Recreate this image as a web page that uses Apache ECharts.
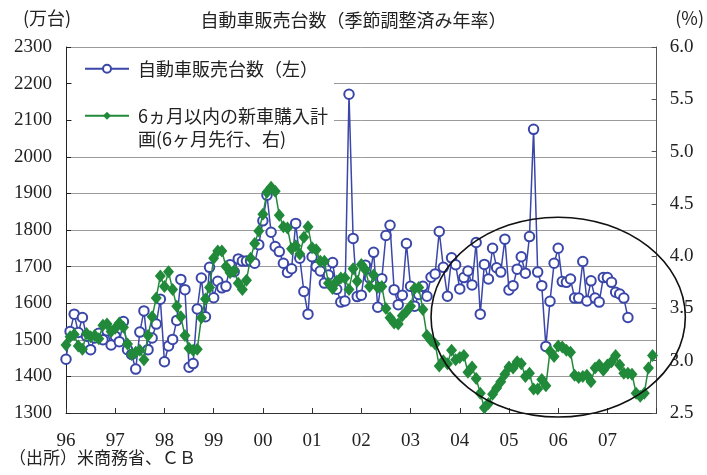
<!DOCTYPE html>
<html>
<head>
<meta charset="utf-8">
<script src="https://cdn.jsdelivr.net/npm/echarts@6/dist/echarts.min.js"></script>
<style>
html,body{margin:0;padding:0;background:#fff;}
#chart{width:707px;height:475px;}
</style>
</head>
<body>
<div id="chart"></div>
<script>
// ---- data ----
const chartTitle = '自動車販売台数（季節調整済み年率）';
const leftUnit = '(万台)';
const rightUnit = '(%)';
const sourceNote = '（出所）米商務省、ＣＢ';
const salesName = '自動車販売台数（左）';
const planName = '6ヵ月以内の新車購入計画(6ヶ月先行、右)';
const years = ['96','97','98','99','00','01','02','03','04','05','06','07','08'];
const leftTicks = [1300,1400,1500,1600,1700,1800,1900,2000,2100,2200,2300];
const rightTicks = [2.5,3.0,3.5,4.0,4.5,5.0,5.5,6.0];

// monthly categories 1996-01 .. 2008-01
const categories = [];
for (let y = 1996; y <= 2008; y++) {
  for (let m = 1; m <= 12; m++) {
    if (y === 2008 && m > 1) break;
    categories.push(y + '-' + (m < 10 ? '0' + m : m));
  }
}

// 自動車販売台数 (万台, left axis), 1996-01 .. 2007-06
const salesValues = [
  1447,1523,1570,1520,1561,1510,1473,1505,1518,1500,1525,1486,
  1510,1495,1550,1473,1460,1420,1521,1579,1473,1505,1543,1611,
  1440,1483,1501,1553,1665,1637,1425,1435,1584,1669,1563,1698,
  1615,1660,1642,1646,1705,1686,1721,1715,1715,1715,1709,1760,
  1825,1895,1794,1755,1741,1709,1684,1694,1818,1723,1632,1570,
  1727,1700,1688,1655,1677,1711,1638,1603,1606,2171,1777,1618,
  1622,1704,1669,1739,1589,1667,1785,1813,1637,1596,1622,1763,
  1646,1592,1624,1646,1619,1671,1680,1796,1698,1619,1724,1705,
  1639,1670,1688,1650,1766,1570,1706,1666,1750,1697,1685,1775,
  1636,1648,1693,1727,1682,1782,2075,1685,1648,1482,1605,1709,
  1750,1659,1657,1666,1614,1614,1714,1606,1661,1614,1603,1670,
  1670,1657,1630,1625,1614,1561
];

// 6ヵ月以内の新車購入計画 (%, right axis, 6 months ahead), 1996-01 .. 2007-12
const planValues = [
  3.15,3.23,3.25,3.14,3.11,3.26,3.23,3.24,3.21,3.34,3.35,3.28,
  3.31,3.36,3.32,3.16,3.06,3.08,3.10,3.01,3.24,3.42,3.60,3.81,
  3.71,3.85,3.68,3.52,3.42,3.24,3.12,3.10,3.11,3.41,3.59,3.70,
  3.98,4.05,4.05,3.90,3.84,3.86,3.74,3.68,3.77,3.98,4.12,4.24,
  4.40,4.61,4.66,4.62,4.39,4.28,4.27,4.07,4.10,4.02,4.18,4.28,
  4.08,4.06,3.95,3.95,3.74,3.69,3.76,3.79,3.79,3.68,3.88,3.76,
  3.92,3.87,3.71,3.82,3.70,3.71,3.50,3.41,3.36,3.35,3.43,3.47,
  3.52,3.69,3.70,3.49,3.24,3.19,3.16,2.95,3.00,2.97,3.10,3.01,
  3.03,3.05,2.89,2.94,2.83,2.69,2.55,2.59,2.68,2.74,2.80,2.87,
  2.94,2.93,2.99,2.97,2.85,2.88,2.73,2.73,2.82,2.76,3.09,3.04,
  3.14,3.13,3.10,3.08,2.86,2.84,2.85,2.86,2.80,2.93,2.96,2.91,
  2.96,2.99,3.05,2.96,2.88,2.88,2.87,2.69,2.66,2.69,2.93,3.05
];

// annotation ellipse (data coordinates)
const ellipseCenter = ['2006-01', 1562];
const ellipseLeftCategory = '2003-06';
const ellipseTopValue = 1835;

// ---- chart ----
const numFont = '"Liberation Serif", "Noto Sans CJK JP", serif';
const jpFont = '"Noto Sans CJK JP", sans-serif';
const blue = '#3A46A8';
const green = '#218A3A';

const chart = echarts.init(document.getElementById('chart'), null, {renderer: 'canvas'});

const option = {
  animation: false,
  backgroundColor: '#fff',
  title: [
    {text: chartTitle, left: 'center', top: 6,
     textStyle: {fontFamily: jpFont, fontSize: 18, fontWeight: 'normal', color: '#222'}},
    {text: sourceNote, left: 4, bottom: 3,
     textStyle: {fontFamily: jpFont, fontSize: 17, lineHeight: 18, fontWeight: 'normal', color: '#222'}}
  ],
  grid: {left: 66, right: 48, top: 47, bottom: 62, containLabel: false},
  legend: {
    orient: 'vertical',
    left: 72, top: 51,
    itemGap: 0,
    itemWidth: 44,
    itemHeight: 10,
    backgroundColor: '#fff',
    padding: [6, 6, 4, 12],
    z: 10,
    data: [salesName, planName],
    formatter: function (name) {
      if (name === planName) return '\n6ヵ月以内の新車購入計\n画(6ヶ月先行、右)';
      return name;
    },
    textStyle: {fontFamily: jpFont, fontSize: 18, lineHeight: 23.5, color: '#222', padding: [0, 0, 0, 4]}
  },
  xAxis: {
    type: 'category',
    data: categories,
    boundaryGap: false,
    axisLine: {lineStyle: {color: '#333', width: 1}},
    axisTick: {inside: true, length: 5, lineStyle: {color: '#333'},
      interval: function (i) { return i % 12 === 0; }},
    axisLabel: {
      interval: function (i) { return i % 12 === 0 && i < 144; },
      formatter: function (v, i) { return years[Math.floor(i / 12)]; },
      margin: 19, lineHeight: 18,
      fontFamily: numFont, fontSize: 19, color: '#222'
    }
  },
  yAxis: [
    {
      type: 'value', min: leftTicks[0], max: leftTicks[leftTicks.length - 1], interval: 100,
      name: leftUnit, nameLocation: 'end', nameGap: 20,
      nameTextStyle: {fontFamily: jpFont, fontSize: 18, color: '#222', padding: [0, 38, 0, 0]},
      axisLine: {show: true, lineStyle: {color: '#222', width: 1}},
      axisTick: {show: true, inside: true, length: 5, lineStyle: {color: '#222'}},
      axisLabel: {margin: 14, fontFamily: numFont, fontSize: 19, color: '#222',
        formatter: function (v) { return String(v); }},
      splitLine: {show: true, lineStyle: {color: '#9a9a9a', width: 1}}
    },
    {
      type: 'value', min: rightTicks[0], max: rightTicks[rightTicks.length - 1], interval: 0.5,
      name: rightUnit, nameLocation: 'end', nameGap: 20,
      nameTextStyle: {fontFamily: jpFont, fontSize: 18, color: '#222', padding: [0, 0, 0, 66]},
      axisLine: {show: true, lineStyle: {color: '#555', width: 1}},
      axisTick: {show: true, inside: true, length: 5, lineStyle: {color: '#555'}},
      axisLabel: {margin: 13, fontFamily: numFont, fontSize: 19, color: '#222',
        formatter: function (v) { return v.toFixed(1); }},
      splitLine: {show: false}
    }
  ],
  series: [
    {
      name: salesName, type: 'line', yAxisIndex: 0,
      data: salesValues,
      showAllSymbol: true,
      symbol: 'emptyCircle', symbolSize: 9.5,
      lineStyle: {color: blue, width: 1.5},
      itemStyle: {color: blue, borderColor: blue, borderWidth: 1.5},
      z: 3
    },
    {
      name: planName, type: 'line', yAxisIndex: 1,
      data: planValues,
      showAllSymbol: true,
      symbol: 'diamond', symbolSize: [11, 13],
      lineStyle: {color: green, width: 1.5},
      itemStyle: {color: green},
      z: 4
    }
  ]
};
chart.setOption(option);

// annotation ellipse positioned through the chart's own scales
const c = chart.convertToPixel({xAxisIndex: 0, yAxisIndex: 0}, ellipseCenter);
const l = chart.convertToPixel({xAxisIndex: 0, yAxisIndex: 0}, [ellipseLeftCategory, ellipseCenter[1]]);
const t = chart.convertToPixel({xAxisIndex: 0, yAxisIndex: 0}, [ellipseCenter[0], ellipseTopValue]);
chart.setOption({
  graphic: [{
    type: 'ellipse',
    shape: {cx: c[0], cy: c[1], rx: c[0] - l[0], ry: c[1] - t[1]},
    style: {fill: null, stroke: '#111', lineWidth: 1.6},
    z: 100, silent: true
  }]
});
</script>
</body>
</html>
